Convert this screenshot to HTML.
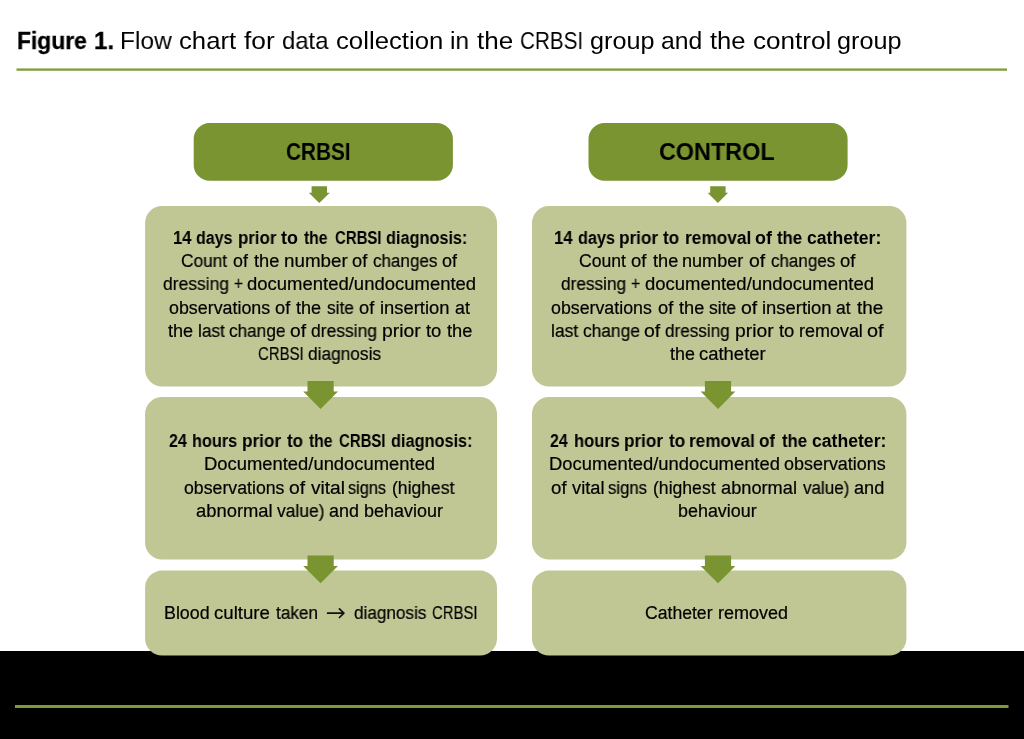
<!DOCTYPE html>
<html><head><meta charset="utf-8"><style>
html,body{margin:0;padding:0;background:#fff;}
body{width:1024px;height:739px;position:relative;overflow:hidden;font-family:"Liberation Sans",sans-serif;color:#000;}
svg{position:absolute;left:0;top:0;}
.t{position:absolute;white-space:nowrap;transform-origin:0 0;will-change:transform;font-weight:normal;color:#000;}
.b{font-weight:bold;color:#000;}
</style></head><body>
<svg width="1024" height="739" viewBox="0 0 1024 739">
<rect x="0" y="651" width="1024" height="88" fill="#000"/>
<rect x="16.5" y="68.45" width="990.5" height="2.3" fill="#7E9C3A"/>
<rect x="15" y="705" width="993.5" height="3" fill="#7C9C34"/>
<rect x="193.7" y="123" width="259.2" height="57.7" rx="16" fill="#799430"/>
<rect x="588.5" y="123" width="259.1" height="57.7" rx="16" fill="#799430"/>
<rect x="145.1" y="206.0" width="351.90" height="180.50" rx="17" fill="#C0C694"/>
<rect x="145.1" y="397.0" width="351.90" height="162.60" rx="17" fill="#C0C694"/>
<rect x="145.1" y="570.6" width="351.90" height="84.90" rx="17" fill="#C0C694"/>
<rect x="532.0" y="206.0" width="374.40" height="180.50" rx="17" fill="#C0C694"/>
<rect x="532.0" y="397.0" width="374.40" height="162.60" rx="17" fill="#C0C694"/>
<rect x="532.0" y="570.6" width="374.40" height="84.90" rx="17" fill="#C0C694"/>
<polygon points="311.60,186.30 327.00,186.30 327.00,192.80 329.85,192.80 319.30,203.10 308.75,192.80 311.60,192.80" fill="#799430"/>
<polygon points="710.20,186.30 725.60,186.30 725.60,192.80 728.15,192.80 717.90,203.10 707.65,192.80 710.20,192.80" fill="#799430"/>
<polygon points="307.50,381.00 333.70,381.00 333.70,391.50 337.95,391.50 320.60,409.10 303.25,391.50 307.50,391.50" fill="#799430"/>
<polygon points="307.50,555.50 333.70,555.50 333.70,566.10 337.95,566.10 320.60,583.30 303.25,566.10 307.50,566.10" fill="#799430"/>
<polygon points="704.90,381.00 731.10,381.00 731.10,391.50 735.35,391.50 718.00,409.10 700.65,391.50 704.90,391.50" fill="#799430"/>
<polygon points="704.90,555.50 731.10,555.50 731.10,566.10 735.35,566.10 718.00,583.30 700.65,566.10 704.90,566.10" fill="#799430"/>
<path d="M327.6,613.2 H343.4 M339.4,608.9 L343.9,613.2 L339.4,617.5" stroke="#111" stroke-width="1.7" fill="none" stroke-linecap="round" stroke-linejoin="round"/>
</svg>
<div class="t b" style="-webkit-text-stroke:0.3px #000;left:16.56px;top:28.90px;font-size:24.6px;line-height:24.6px;transform:scaleX(0.9278)">Figure</div>
<div class="t b" style="-webkit-text-stroke:0.3px #000;left:94.02px;top:28.90px;font-size:24.6px;line-height:24.6px;transform:scaleX(0.9797)">1.</div>
<div class="t" style="-webkit-text-stroke:0;left:119.85px;top:28.90px;font-size:24.6px;line-height:24.6px;transform:scaleX(0.9953)">Flow</div>
<div class="t" style="-webkit-text-stroke:0;left:179.15px;top:28.90px;font-size:24.6px;line-height:24.6px;transform:scaleX(1.0451)">chart</div>
<div class="t" style="-webkit-text-stroke:0;left:243.76px;top:28.90px;font-size:24.6px;line-height:24.6px;transform:scaleX(1.0688)">for</div>
<div class="t" style="-webkit-text-stroke:0;left:281.62px;top:28.90px;font-size:24.6px;line-height:24.6px;transform:scaleX(0.9694)">data</div>
<div class="t" style="-webkit-text-stroke:0;left:336.04px;top:28.90px;font-size:24.6px;line-height:24.6px;transform:scaleX(1.0470)">collection</div>
<div class="t" style="-webkit-text-stroke:0;left:450.26px;top:28.90px;font-size:24.6px;line-height:24.6px;transform:scaleX(0.9902)">in</div>
<div class="t" style="-webkit-text-stroke:0;left:476.91px;top:28.90px;font-size:24.6px;line-height:24.6px;transform:scaleX(1.0594)">the</div>
<div class="t" style="-webkit-text-stroke:0;left:520.09px;top:28.90px;font-size:24.6px;line-height:24.6px;transform:scaleX(0.8404)">CRBSI</div>
<div class="t" style="-webkit-text-stroke:0;left:589.97px;top:28.90px;font-size:24.6px;line-height:24.6px;transform:scaleX(1.0244)">group</div>
<div class="t" style="-webkit-text-stroke:0;left:661.47px;top:28.90px;font-size:24.6px;line-height:24.6px;transform:scaleX(1.0057)">and</div>
<div class="t" style="-webkit-text-stroke:0;left:709.91px;top:28.90px;font-size:24.6px;line-height:24.6px;transform:scaleX(1.0413)">the</div>
<div class="t" style="-webkit-text-stroke:0;left:752.93px;top:28.90px;font-size:24.6px;line-height:24.6px;transform:scaleX(1.0603)">control</div>
<div class="t" style="-webkit-text-stroke:0;left:837.32px;top:28.90px;font-size:24.6px;line-height:24.6px;transform:scaleX(1.0253)">group</div>
<div class="t b" style="left:285.83px;top:139.60px;font-size:24.4px;line-height:24.4px;transform:scaleX(0.8521)">CRBSI</div>
<div class="t b" style="left:658.93px;top:139.70px;font-size:24.4px;line-height:24.4px;transform:scaleX(0.9588)">CONTROL</div>
<div class="t b" style="left:172.72px;top:229.70px;font-size:17.6px;line-height:17.6px;transform:scaleX(0.9437)">14</div>
<div class="t b" style="left:196.32px;top:229.70px;font-size:17.6px;line-height:17.6px;transform:scaleX(0.9115)">days</div>
<div class="t b" style="left:237.58px;top:229.70px;font-size:17.6px;line-height:17.6px;transform:scaleX(0.9581)">prior</div>
<div class="t b" style="left:281.44px;top:229.70px;font-size:17.6px;line-height:17.6px;transform:scaleX(1.0183)">to</div>
<div class="t b" style="left:304.14px;top:229.70px;font-size:17.6px;line-height:17.6px;transform:scaleX(0.8939)">the</div>
<div class="t b" style="left:334.58px;top:229.70px;font-size:17.6px;line-height:17.6px;transform:scaleX(0.8503)">CRBSI</div>
<div class="t b" style="left:386.06px;top:229.70px;font-size:17.6px;line-height:17.6px;transform:scaleX(0.9252)">diagnosis:</div>
<div class="t" style="-webkit-text-stroke:0.2px #000;left:181.27px;top:252.80px;font-size:17.6px;line-height:17.6px;transform:scaleX(0.9825)">Count</div>
<div class="t" style="-webkit-text-stroke:0.2px #000;left:233.34px;top:252.80px;font-size:17.6px;line-height:17.6px;transform:scaleX(1.0155)">of</div>
<div class="t" style="-webkit-text-stroke:0.2px #000;left:254.14px;top:252.80px;font-size:17.6px;line-height:17.6px;transform:scaleX(1.0378)">the</div>
<div class="t" style="-webkit-text-stroke:0.2px #000;left:284.27px;top:252.80px;font-size:17.6px;line-height:17.6px;transform:scaleX(1.0676)">number</div>
<div class="t" style="-webkit-text-stroke:0.2px #000;left:352.42px;top:252.80px;font-size:17.6px;line-height:17.6px;transform:scaleX(1.0365)">of</div>
<div class="t" style="-webkit-text-stroke:0.2px #000;left:372.76px;top:252.80px;font-size:17.6px;line-height:17.6px;transform:scaleX(0.9679)">changes</div>
<div class="t" style="-webkit-text-stroke:0.2px #000;left:442.23px;top:252.80px;font-size:17.6px;line-height:17.6px;transform:scaleX(1.0225)">of</div>
<div class="t" style="-webkit-text-stroke:0.2px #000;left:162.86px;top:275.90px;font-size:17.6px;line-height:17.6px;transform:scaleX(0.9914)">dressing</div>
<div class="t" style="-webkit-text-stroke:0.2px #000;left:233.76px;top:275.90px;font-size:17.6px;line-height:17.6px;transform:scaleX(0.8762)">+</div>
<div class="t" style="-webkit-text-stroke:0.2px #000;left:247.01px;top:275.90px;font-size:17.6px;line-height:17.6px;transform:scaleX(1.0505)">documented/undocumented</div>
<div class="t" style="-webkit-text-stroke:0.2px #000;left:169.04px;top:299.60px;font-size:17.6px;line-height:17.6px;transform:scaleX(1.0142)">observations</div>
<div class="t" style="-webkit-text-stroke:0.2px #000;left:275.22px;top:299.60px;font-size:17.6px;line-height:17.6px;transform:scaleX(1.0365)">of</div>
<div class="t" style="-webkit-text-stroke:0.2px #000;left:296.34px;top:299.60px;font-size:17.6px;line-height:17.6px;transform:scaleX(1.0295)">the</div>
<div class="t" style="-webkit-text-stroke:0.2px #000;left:326.64px;top:299.60px;font-size:17.6px;line-height:17.6px;transform:scaleX(0.9834)">site</div>
<div class="t" style="-webkit-text-stroke:0.2px #000;left:358.62px;top:299.60px;font-size:17.6px;line-height:17.6px;transform:scaleX(1.0400)">of</div>
<div class="t" style="-webkit-text-stroke:0.2px #000;left:380.32px;top:299.60px;font-size:17.6px;line-height:17.6px;transform:scaleX(1.0443)">insertion</div>
<div class="t" style="-webkit-text-stroke:0.2px #000;left:454.72px;top:299.60px;font-size:17.6px;line-height:17.6px;transform:scaleX(1.0113)">at</div>
<div class="t" style="-webkit-text-stroke:0.2px #000;left:167.64px;top:322.80px;font-size:17.6px;line-height:17.6px;transform:scaleX(1.0295)">the</div>
<div class="t" style="-webkit-text-stroke:0.2px #000;left:197.66px;top:322.80px;font-size:17.6px;line-height:17.6px;transform:scaleX(0.9787)">last</div>
<div class="t" style="-webkit-text-stroke:0.2px #000;left:229.45px;top:322.80px;font-size:17.6px;line-height:17.6px;transform:scaleX(0.9772)">change</div>
<div class="t" style="-webkit-text-stroke:0.2px #000;left:289.98px;top:322.80px;font-size:17.6px;line-height:17.6px;transform:scaleX(1.0926)">of</div>
<div class="t" style="-webkit-text-stroke:0.2px #000;left:311.16px;top:322.80px;font-size:17.6px;line-height:17.6px;transform:scaleX(0.9914)">dressing</div>
<div class="t" style="-webkit-text-stroke:0.2px #000;left:381.77px;top:322.80px;font-size:17.6px;line-height:17.6px;transform:scaleX(1.0985)">prior</div>
<div class="t" style="-webkit-text-stroke:0.2px #000;left:425.84px;top:322.80px;font-size:17.6px;line-height:17.6px;transform:scaleX(1.0478)">to</div>
<div class="t" style="-webkit-text-stroke:0.2px #000;left:446.94px;top:322.80px;font-size:17.6px;line-height:17.6px;transform:scaleX(1.0378)">the</div>
<div class="t" style="-webkit-text-stroke:0.2px #000;left:258.08px;top:346.00px;font-size:17.6px;line-height:17.6px;transform:scaleX(0.8483)">CRBSI</div>
<div class="t" style="-webkit-text-stroke:0.2px #000;left:308.06px;top:346.00px;font-size:17.6px;line-height:17.6px;transform:scaleX(0.9826)">diagnosis</div>
<div class="t b" style="left:168.60px;top:432.90px;font-size:17.6px;line-height:17.6px;transform:scaleX(0.9145)">24</div>
<div class="t b" style="left:192.31px;top:432.90px;font-size:17.6px;line-height:17.6px;transform:scaleX(0.9256)">hours</div>
<div class="t b" style="left:242.26px;top:432.90px;font-size:17.6px;line-height:17.6px;transform:scaleX(0.9760)">prior</div>
<div class="t b" style="left:286.94px;top:432.90px;font-size:17.6px;line-height:17.6px;transform:scaleX(0.9686)">to</div>
<div class="t b" style="left:308.84px;top:432.90px;font-size:17.6px;line-height:17.6px;transform:scaleX(0.8939)">the</div>
<div class="t b" style="left:339.28px;top:432.90px;font-size:17.6px;line-height:17.6px;transform:scaleX(0.8503)">CRBSI</div>
<div class="t b" style="left:390.71px;top:432.90px;font-size:17.6px;line-height:17.6px;transform:scaleX(0.9270)">diagnosis:</div>
<div class="t" style="-webkit-text-stroke:0.2px #000;left:204.16px;top:456.20px;font-size:17.6px;line-height:17.6px;transform:scaleX(1.0455)">Documented/undocumented</div>
<div class="t" style="-webkit-text-stroke:0.2px #000;left:183.85px;top:479.60px;font-size:17.6px;line-height:17.6px;transform:scaleX(1.0070)">observations</div>
<div class="t" style="-webkit-text-stroke:0.2px #000;left:289.18px;top:479.60px;font-size:17.6px;line-height:17.6px;transform:scaleX(1.0996)">of</div>
<div class="t" style="-webkit-text-stroke:0.2px #000;left:310.59px;top:479.60px;font-size:17.6px;line-height:17.6px;transform:scaleX(1.0865)">vital</div>
<div class="t" style="-webkit-text-stroke:0.2px #000;left:348.29px;top:479.60px;font-size:17.6px;line-height:17.6px;transform:scaleX(0.9256)">signs</div>
<div class="t" style="-webkit-text-stroke:0.2px #000;left:392.07px;top:479.60px;font-size:17.6px;line-height:17.6px;transform:scaleX(0.9956)">(highest</div>
<div class="t" style="-webkit-text-stroke:0.2px #000;left:195.70px;top:502.80px;font-size:17.6px;line-height:17.6px;transform:scaleX(1.0445)">abnormal</div>
<div class="t" style="-webkit-text-stroke:0.2px #000;left:276.94px;top:502.80px;font-size:17.6px;line-height:17.6px;transform:scaleX(0.9914)">value)</div>
<div class="t" style="-webkit-text-stroke:0.2px #000;left:329.47px;top:502.80px;font-size:17.6px;line-height:17.6px;transform:scaleX(1.0187)">and</div>
<div class="t" style="-webkit-text-stroke:0.2px #000;left:363.94px;top:502.80px;font-size:17.6px;line-height:17.6px;transform:scaleX(1.0213)">behaviour</div>
<div class="t" style="-webkit-text-stroke:0.2px #000;left:164.29px;top:605.00px;font-size:17.6px;line-height:17.6px;transform:scaleX(1.0134)">Blood</div>
<div class="t" style="-webkit-text-stroke:0.2px #000;left:214.29px;top:605.00px;font-size:17.6px;line-height:17.6px;transform:scaleX(1.0587)">culture</div>
<div class="t" style="-webkit-text-stroke:0.2px #000;left:276.23px;top:605.00px;font-size:17.6px;line-height:17.6px;transform:scaleX(0.9751)">taken</div>
<div class="t" style="-webkit-text-stroke:0.2px #000;left:354.47px;top:605.00px;font-size:17.6px;line-height:17.6px;transform:scaleX(0.9744)">diagnosis</div>
<div class="t" style="-webkit-text-stroke:0.2px #000;left:432.18px;top:605.00px;font-size:17.6px;line-height:17.6px;transform:scaleX(0.8444)">CRBSI</div>
<div class="t b" style="left:554.11px;top:229.70px;font-size:17.6px;line-height:17.6px;transform:scaleX(0.9542)">14</div>
<div class="t b" style="left:578.01px;top:229.70px;font-size:17.6px;line-height:17.6px;transform:scaleX(0.9245)">days</div>
<div class="t b" style="left:619.26px;top:229.70px;font-size:17.6px;line-height:17.6px;transform:scaleX(0.9760)">prior</div>
<div class="t b" style="left:663.44px;top:229.70px;font-size:17.6px;line-height:17.6px;transform:scaleX(0.9748)">to</div>
<div class="t b" style="left:684.86px;top:229.70px;font-size:17.6px;line-height:17.6px;transform:scaleX(0.9832)">removal</div>
<div class="t b" style="left:755.07px;top:229.70px;font-size:17.6px;line-height:17.6px;transform:scaleX(1.0178)">of</div>
<div class="t b" style="left:777.44px;top:229.70px;font-size:17.6px;line-height:17.6px;transform:scaleX(0.9552)">the</div>
<div class="t b" style="left:807.39px;top:229.70px;font-size:17.6px;line-height:17.6px;transform:scaleX(0.9996)">catheter:</div>
<div class="t" style="-webkit-text-stroke:0.2px #000;left:578.95px;top:252.80px;font-size:17.6px;line-height:17.6px;transform:scaleX(0.9998)">Count</div>
<div class="t" style="-webkit-text-stroke:0.2px #000;left:631.01px;top:252.80px;font-size:17.6px;line-height:17.6px;transform:scaleX(1.0505)">of</div>
<div class="t" style="-webkit-text-stroke:0.2px #000;left:652.64px;top:252.80px;font-size:17.6px;line-height:17.6px;transform:scaleX(1.0336)">the</div>
<div class="t" style="-webkit-text-stroke:0.2px #000;left:682.31px;top:252.80px;font-size:17.6px;line-height:17.6px;transform:scaleX(1.0282)">number</div>
<div class="t" style="-webkit-text-stroke:0.2px #000;left:749.17px;top:252.80px;font-size:17.6px;line-height:17.6px;transform:scaleX(1.1066)">of</div>
<div class="t" style="-webkit-text-stroke:0.2px #000;left:770.86px;top:252.80px;font-size:17.6px;line-height:17.6px;transform:scaleX(0.9656)">changes</div>
<div class="t" style="-webkit-text-stroke:0.2px #000;left:839.71px;top:252.80px;font-size:17.6px;line-height:17.6px;transform:scaleX(1.0505)">of</div>
<div class="t" style="-webkit-text-stroke:0.2px #000;left:560.67px;top:275.90px;font-size:17.6px;line-height:17.6px;transform:scaleX(0.9776)">dressing</div>
<div class="t" style="-webkit-text-stroke:0.2px #000;left:631.07px;top:275.90px;font-size:17.6px;line-height:17.6px;transform:scaleX(0.9022)">+</div>
<div class="t" style="-webkit-text-stroke:0.2px #000;left:645.11px;top:275.90px;font-size:17.6px;line-height:17.6px;transform:scaleX(1.0496)">documented/undocumented</div>
<div class="t" style="-webkit-text-stroke:0.2px #000;left:551.44px;top:299.60px;font-size:17.6px;line-height:17.6px;transform:scaleX(1.0106)">observations</div>
<div class="t" style="-webkit-text-stroke:0.2px #000;left:657.62px;top:299.60px;font-size:17.6px;line-height:17.6px;transform:scaleX(1.0435)">of</div>
<div class="t" style="-webkit-text-stroke:0.2px #000;left:679.14px;top:299.60px;font-size:17.6px;line-height:17.6px;transform:scaleX(1.0336)">the</div>
<div class="t" style="-webkit-text-stroke:0.2px #000;left:709.13px;top:299.60px;font-size:17.6px;line-height:17.6px;transform:scaleX(0.9910)">site</div>
<div class="t" style="-webkit-text-stroke:0.2px #000;left:740.87px;top:299.60px;font-size:17.6px;line-height:17.6px;transform:scaleX(1.1066)">of</div>
<div class="t" style="-webkit-text-stroke:0.2px #000;left:762.32px;top:299.60px;font-size:17.6px;line-height:17.6px;transform:scaleX(1.0466)">insertion</div>
<div class="t" style="-webkit-text-stroke:0.2px #000;left:836.44px;top:299.60px;font-size:17.6px;line-height:17.6px;transform:scaleX(0.9902)">at</div>
<div class="t" style="-webkit-text-stroke:0.2px #000;left:857.14px;top:299.60px;font-size:17.6px;line-height:17.6px;transform:scaleX(1.0751)">the</div>
<div class="t" style="-webkit-text-stroke:0.2px #000;left:550.85px;top:322.80px;font-size:17.6px;line-height:17.6px;transform:scaleX(0.9901)">last</div>
<div class="t" style="-webkit-text-stroke:0.2px #000;left:582.95px;top:322.80px;font-size:17.6px;line-height:17.6px;transform:scaleX(0.9861)">change</div>
<div class="t" style="-webkit-text-stroke:0.2px #000;left:644.27px;top:322.80px;font-size:17.6px;line-height:17.6px;transform:scaleX(1.1066)">of</div>
<div class="t" style="-webkit-text-stroke:0.2px #000;left:665.17px;top:322.80px;font-size:17.6px;line-height:17.6px;transform:scaleX(0.9715)">dressing</div>
<div class="t" style="-webkit-text-stroke:0.2px #000;left:734.87px;top:322.80px;font-size:17.6px;line-height:17.6px;transform:scaleX(1.0956)">prior</div>
<div class="t" style="-webkit-text-stroke:0.2px #000;left:779.14px;top:322.80px;font-size:17.6px;line-height:17.6px;transform:scaleX(1.0478)">to</div>
<div class="t" style="-webkit-text-stroke:0.2px #000;left:798.82px;top:322.80px;font-size:17.6px;line-height:17.6px;transform:scaleX(1.0205)">removal</div>
<div class="t" style="-webkit-text-stroke:0.2px #000;left:867.06px;top:322.80px;font-size:17.6px;line-height:17.6px;transform:scaleX(1.1276)">of</div>
<div class="t" style="-webkit-text-stroke:0.2px #000;left:669.64px;top:346.00px;font-size:17.6px;line-height:17.6px;transform:scaleX(1.0170)">the</div>
<div class="t" style="-webkit-text-stroke:0.2px #000;left:699.10px;top:346.00px;font-size:17.6px;line-height:17.6px;transform:scaleX(1.0487)">catheter</div>
<div class="t b" style="left:550.20px;top:432.90px;font-size:17.6px;line-height:17.6px;transform:scaleX(0.9095)">24</div>
<div class="t b" style="left:573.69px;top:432.90px;font-size:17.6px;line-height:17.6px;transform:scaleX(0.9404)">hours</div>
<div class="t b" style="left:623.96px;top:432.90px;font-size:17.6px;line-height:17.6px;transform:scaleX(0.9734)">prior</div>
<div class="t b" style="left:668.84px;top:432.90px;font-size:17.6px;line-height:17.6px;transform:scaleX(0.9810)">to</div>
<div class="t b" style="left:689.46px;top:432.90px;font-size:17.6px;line-height:17.6px;transform:scaleX(0.9771)">removal</div>
<div class="t b" style="left:759.30px;top:432.90px;font-size:17.6px;line-height:17.6px;transform:scaleX(0.9687)">of</div>
<div class="t b" style="left:781.64px;top:432.90px;font-size:17.6px;line-height:17.6px;transform:scaleX(0.9552)">the</div>
<div class="t b" style="left:811.59px;top:432.90px;font-size:17.6px;line-height:17.6px;transform:scaleX(1.0010)">catheter:</div>
<div class="t" style="-webkit-text-stroke:0.2px #000;left:549.16px;top:456.20px;font-size:17.6px;line-height:17.6px;transform:scaleX(1.0446)">Documented/undocumented</div>
<div class="t" style="-webkit-text-stroke:0.2px #000;left:784.14px;top:456.20px;font-size:17.6px;line-height:17.6px;transform:scaleX(1.0202)">observations</div>
<div class="t" style="-webkit-text-stroke:0.2px #000;left:550.81px;top:479.60px;font-size:17.6px;line-height:17.6px;transform:scaleX(1.0610)">of</div>
<div class="t" style="-webkit-text-stroke:0.2px #000;left:571.74px;top:479.60px;font-size:17.6px;line-height:17.6px;transform:scaleX(1.0404)">vital</div>
<div class="t" style="-webkit-text-stroke:0.2px #000;left:608.37px;top:479.60px;font-size:17.6px;line-height:17.6px;transform:scaleX(0.9494)">signs</div>
<div class="t" style="-webkit-text-stroke:0.2px #000;left:652.97px;top:479.60px;font-size:17.6px;line-height:17.6px;transform:scaleX(0.9988)">(highest</div>
<div class="t" style="-webkit-text-stroke:0.2px #000;left:720.80px;top:479.60px;font-size:17.6px;line-height:17.6px;transform:scaleX(1.0354)">abnormal</div>
<div class="t" style="-webkit-text-stroke:0.2px #000;left:803.24px;top:479.60px;font-size:17.6px;line-height:17.6px;transform:scaleX(0.9680)">value)</div>
<div class="t" style="-webkit-text-stroke:0.2px #000;left:853.81px;top:479.60px;font-size:17.6px;line-height:17.6px;transform:scaleX(1.0332)">and</div>
<div class="t" style="-webkit-text-stroke:0.2px #000;left:677.95px;top:502.80px;font-size:17.6px;line-height:17.6px;transform:scaleX(1.0186)">behaviour</div>
<div class="t" style="-webkit-text-stroke:0.2px #000;left:644.95px;top:605.00px;font-size:17.6px;line-height:17.6px;transform:scaleX(1.0005)">Catheter</div>
<div class="t" style="-webkit-text-stroke:0.2px #000;left:717.82px;top:605.00px;font-size:17.6px;line-height:17.6px;transform:scaleX(1.0232)">removed</div>
</body></html>
